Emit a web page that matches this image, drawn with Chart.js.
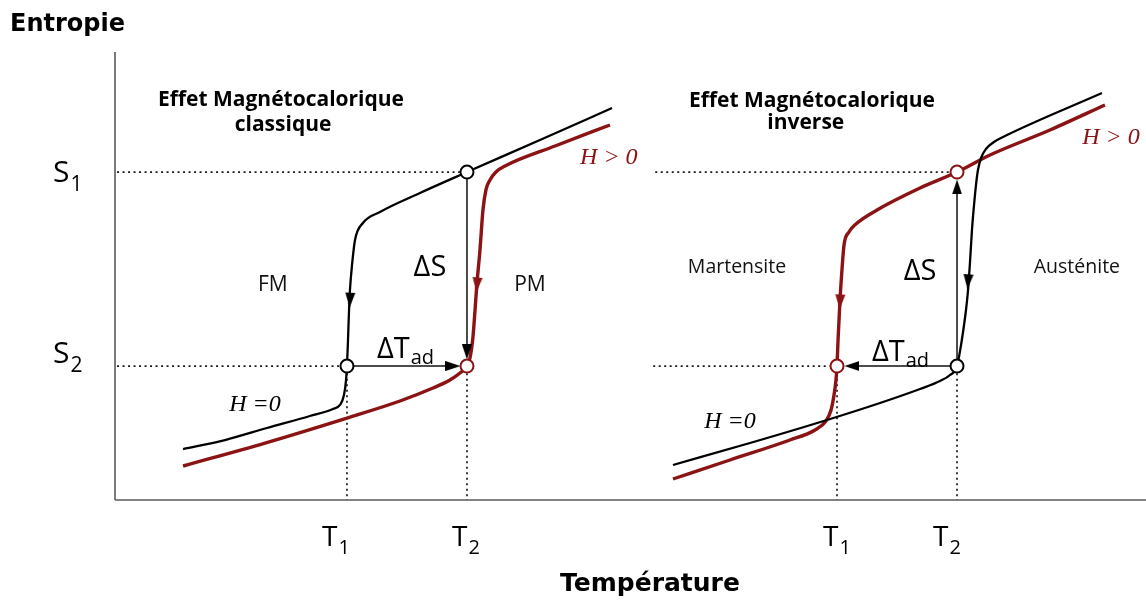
<!DOCTYPE html>
<html>
<head>
<meta charset="utf-8">
<script src="https://cdn.jsdelivr.net/npm/chart.js@4"></script>
<style>
html, body { margin: 0; padding: 0; background: #fff; }
canvas { display: block; }
</style>
</head>
<body>
<canvas id="mceChart" width="1146" height="601"></canvas>
<script>
// schematic units: temperature and entropy both run 0..100
const S1 = 73.2;
const S2 = 29.9;
const classicT = [22.5, 34.14];   // T1, T2 (effet classique)
const inverseT = [70.03, 81.67];  // T1, T2 (effet inverse)

// effet classique, H = 0 (black)
const classicZeroT = [6.60, 10.67, 14.74, 18.91, 21.14, 21.82, 22.21, 22.41, 22.50, 22.60, 22.70, 22.79, 22.99, 23.28, 24.05, 25.70, 29.58, 34.14, 41.22, 48.21];
const classicZeroS = [11.38, 13.39, 16.07, 18.75, 20.31, 21.21, 23.44, 26.79, 29.90, 35.71, 42.41, 46.88, 52.46, 58.04, 61.83, 64.29, 68.53, 73.20, 80.36, 87.50];

// effet classique, H > 0 (red)
const classicFieldT = [6.60, 14.55, 22.50, 27.64, 30.84, 32.49, 33.46, 34.14, 34.43, 34.72, 34.92, 35.11, 35.40, 35.69, 35.98, 36.37, 36.95, 37.83, 42.68, 48.01];
const classicFieldS = [7.59, 12.72, 18.30, 22.10, 25.00, 26.79, 28.35, 29.90, 31.70, 36.38, 42.41, 48.44, 55.80, 64.73, 69.20, 71.43, 73.21, 74.55, 79.02, 83.71];

// effet inverse, H = 0 (black)
const inverseZeroT = [54.12, 61.59, 69.06, 74.20, 78.08, 80.02, 80.99, 81.67, 82.06, 82.35, 82.54, 82.74, 82.93, 83.12, 83.32, 83.51, 83.70, 84.00, 84.47, 85.25, 86.32, 95.73];
const inverseZeroS = [7.81, 12.72, 17.86, 21.65, 24.78, 26.56, 27.90, 29.90, 34.60, 39.06, 42.41, 46.88, 53.13, 60.27, 65.85, 70.31, 73.66, 76.34, 78.35, 79.91, 81.25, 90.85];

// effet inverse, H > 0 (red)
const inverseFieldT = [54.12, 59.65, 65.47, 67.90, 68.96, 69.45, 69.74, 69.93, 70.03, 70.13, 70.32, 70.51, 70.71, 71.19, 71.87, 73.91, 78.08, 81.67, 84.87, 90.69, 96.02];
const inverseFieldS = [4.69, 8.93, 13.39, 15.63, 17.63, 20.09, 23.44, 26.79, 29.90, 35.71, 44.64, 51.34, 56.92, 59.82, 61.61, 64.73, 69.64, 73.20, 77.01, 82.59, 88.17];

// arrow heads: position and pointing angle (deg, 0 = up)
const blackArrowT = [22.79, 34.14, 32.78, 82.74, 81.67, 71.48];
const blackArrowS = [44.60, 33.04, 29.90, 48.70, 69.87, 29.90];
const blackArrowRot = [183, 180, 90, 184, 0, 270];
const redArrowT = [35.11, 70.32];
const redArrowS = [48.00, 44.20];
const redArrowRot = [185, 183];

const regionNames = ['FM', 'PM', 'Martensite', 'Austénite'];
const panelTitles = [['Effet Magnétocalorique', 'classique'], ['Effet Magnétocalorique', 'inverse']];

const RED = '#8b1313';
const pts = (xs, ys) => xs.map((v, i) => ({x: v, y: ys[i]}));

function arrowHead(color) {
    const c = document.createElement('canvas');
    c.width = 10;
    c.height = 15;
    const g = c.getContext('2d');
    g.fillStyle = color;
    g.beginPath();
    g.moveTo(5, 0);
    g.lineTo(10, 15);
    g.lineTo(0, 15);
    g.closePath();
    g.fill();
    return c;
}

function curve(xs, ys, color, width) {
    return {
        data: pts(xs, ys), showLine: true, borderColor: color, borderWidth: width,
        pointRadius: 0, cubicInterpolationMode: 'monotone', clip: false, order: 2
    };
}

function segment(a, b, opts) {
    return Object.assign({
        data: [a, b], showLine: true, borderColor: '#111', borderWidth: 1.5,
        pointRadius: 0, tension: 0, clip: false, order: 3
    }, opts);
}

const dotted = {borderDash: [2, 3.5], borderWidth: 1.7, borderColor: '#1a1a1a', order: 4};
const titleFont = 'bold 21px "Open Sans"';

const labels = [
    {text: 'Entropie', t: -10.18, s: 106.0, font: 'bold 24px "DejaVu Sans"', align: 'left'},
    {text: 'Température', t: 51.89, s: -18.97, font: 'bold 25px "DejaVu Sans"'},
    {text: panelTitles[0][0], t: 16.1, s: 89.29, font: titleFont},
    {text: panelTitles[0][1], t: 16.3, s: 83.71, font: titleFont},
    {text: panelTitles[1][0], t: 67.6, s: 89.06, font: titleFont},
    {text: panelTitles[1][1], t: 67.0, s: 84.15, font: titleFont},
    {text: regionNames[0], t: 15.3, s: 48.0, font: '21px "Open Sans"', color: '#111'},
    {text: regionNames[1], t: 40.25, s: 48.0, font: '21px "Open Sans"', color: '#111'},
    {text: regionNames[2], t: 60.33, s: 52.0, font: '19.5px "Open Sans"', color: '#111'},
    {text: regionNames[3], t: 93.3, s: 52.0, font: '19.5px "Open Sans"', color: '#111'},
    {text: 'ΔS', t: 30.55, s: 51.8, font: '29px "Open Sans"'},
    {text: 'ΔS', t: 78.08, s: 50.9, font: '29px "Open Sans"'},
    {text: 'ΔT', sub: 'ad', t: 25.41, s: 33.5, font: '29px "Open Sans"', subFont: '20px "Open Sans"', drop: 8, align: 'left'},
    {text: 'ΔT', sub: 'ad', t: 73.42, s: 32.8, font: '29px "Open Sans"', subFont: '20px "Open Sans"', drop: 8, align: 'left'},
    {text: 'H > 0', t: 47.9, s: 76.3, font: 'italic 24px "Liberation Serif"', color: RED},
    {text: 'H > 0', t: 96.6, s: 80.8, font: 'italic 24px "Liberation Serif"', color: RED},
    {text: 'H =0', t: 13.58, s: 21.2, font: 'italic 24px "Liberation Serif"'},
    {text: 'H =0', t: 59.65, s: 17.4, font: 'italic 24px "Liberation Serif"'},
    {text: 'S', sub: '1', t: -6.01, s: 72.8, font: '30px "Open Sans"', subFont: '21px "Open Sans"', drop: 11, align: 'left'},
    {text: 'S', sub: '2', t: -6.01, s: 32.4, font: '30px "Open Sans"', subFont: '21px "Open Sans"', drop: 11, align: 'left'},
    {text: 'T', sub: '1', t: 20.08, s: -8.48, font: '28px "Open Sans"', subFont: '20px "Open Sans"', drop: 10, align: 'left'},
    {text: 'T', sub: '2', t: 32.69, s: -8.48, font: '28px "Open Sans"', subFont: '20px "Open Sans"', drop: 10, align: 'left'},
    {text: 'T', sub: '1', t: 68.67, s: -8.48, font: '28px "Open Sans"', subFont: '20px "Open Sans"', drop: 10, align: 'left'},
    {text: 'T', sub: '2', t: 79.34, s: -8.48, font: '28px "Open Sans"', subFont: '20px "Open Sans"', drop: 10, align: 'left'}
];

const textPlugin = {
    id: 'diagramText',
    afterDatasetsDraw(chart) {
        const {ctx, scales: {x, y}} = chart;
        ctx.save();
        ctx.textBaseline = 'middle';
        labels.forEach(l => {
            const px = x.getPixelForValue(l.t);
            const py = y.getPixelForValue(l.s);
            ctx.font = l.font;
            ctx.fillStyle = l.color || '#000';
            ctx.textAlign = l.align || 'center';
            ctx.fillText(l.text, px, py);
            if (l.sub) {
                const w = ctx.measureText(l.text).width;
                ctx.font = l.subFont;
                ctx.textAlign = 'left';
                ctx.fillText(l.sub, px + w + 1, py + l.drop);
            }
        });
        ctx.restore();
    }
};

const ctx = document.getElementById('mceChart');

new Chart(ctx, {
    type: 'scatter',
    data: {
        datasets: [
            // axes
            segment({x: 0, y: 100}, {x: 0, y: 0}, {borderColor: '#5a5a5a', borderWidth: 1.6, order: 5}),
            segment({x: 0, y: 0}, {x: 100, y: 0}, {borderColor: '#5a5a5a', borderWidth: 1.6, order: 5}),
            // reference levels
            segment({x: 0.2, y: S1}, {x: 33.46, y: S1}, dotted),
            segment({x: 0.2, y: S2}, {x: 21.82, y: S2}, dotted),
            segment({x: 52.4, y: S1}, {x: 80.9, y: S1}, dotted),
            segment({x: 52.2, y: S2}, {x: 69.3, y: S2}, dotted),
            segment({x: classicT[0], y: 28.3}, {x: classicT[0], y: 0}, dotted),
            segment({x: classicT[1], y: 28.3}, {x: classicT[1], y: 0}, dotted),
            segment({x: inverseT[0], y: 28.3}, {x: inverseT[0], y: 0}, dotted),
            segment({x: inverseT[1], y: 28.3}, {x: inverseT[1], y: 0}, dotted),
            // ΔS and ΔTad arrows
            segment({x: classicT[1], y: 72.1}, {x: classicT[1], y: 33.5}),
            segment({x: 23.18, y: S2}, {x: 32.5, y: S2}),
            segment({x: inverseT[1], y: 31.2}, {x: inverseT[1], y: 69.5}),
            segment({x: 80.99, y: S2}, {x: 71.8, y: S2}),
            // curves
            curve(classicZeroT, classicZeroS, '#000', 2.3),
            curve(classicFieldT, classicFieldS, RED, 3.4),
            curve(inverseZeroT, inverseZeroS, '#000', 2.3),
            curve(inverseFieldT, inverseFieldS, RED, 3.4),
            // arrow heads
            {
                data: pts(blackArrowT, blackArrowS), pointStyle: arrowHead('#000'),
                pointRadius: 5, rotation: blackArrowRot, order: 1
            },
            {
                data: pts(redArrowT, redArrowS), pointStyle: arrowHead(RED),
                pointRadius: 5, rotation: redArrowRot, order: 1
            },
            // state points
            {
                data: [{x: classicT[1], y: S1}, {x: classicT[0], y: S2}, {x: inverseT[1], y: S2}],
                pointRadius: 6.5, pointBorderWidth: 2, pointBackgroundColor: '#fff',
                pointBorderColor: '#000', order: 0
            },
            {
                data: [{x: classicT[1], y: S2}, {x: inverseT[1], y: S1}, {x: inverseT[0], y: S2}],
                pointRadius: 6.5, pointBorderWidth: 2, pointBackgroundColor: '#fff',
                pointBorderColor: RED, order: 0
            }
        ]
    },
    options: {
        responsive: false,
        animation: false,
        devicePixelRatio: 1,
        layout: {autoPadding: false, padding: {left: 115, right: 0, top: 52, bottom: 101}},
        scales: {
            x: {type: 'linear', min: 0, max: 100, display: false},
            y: {type: 'linear', min: 0, max: 100, display: false}
        },
        plugins: {legend: {display: false}, tooltip: {enabled: false}}
    },
    plugins: [textPlugin]
});
</script>
</body>
</html>
